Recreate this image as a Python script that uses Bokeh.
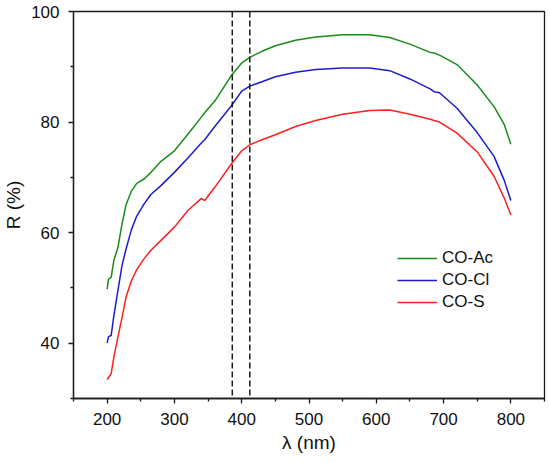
from bokeh.plotting import figure
from bokeh.models import (FixedTicker, Span, Legend, LegendItem, Range1d)
from bokeh.embed import file_html
from bokeh.resources import INLINE

# ---- data ----
wavelength = [200, 202, 206, 210, 216, 222, 228, 236, 244, 255, 265, 280, 300,
              320, 340, 345, 360, 385, 400, 412, 430, 450, 480, 510, 550, 590, 620,
              650, 680, 686, 694, 720, 750, 775, 790, 800]

co_ac = [49.8, 51.6, 51.9, 55.0, 57.3, 61.5, 65.0, 67.5, 68.9, 69.7, 70.9, 72.9, 74.8,
         77.8, 80.9, 81.7, 83.8, 88.5, 90.7, 91.7, 92.8, 93.8, 94.8, 95.4, 95.8, 95.8, 95.3,
         94.1, 92.6, 92.5, 92.1, 90.4, 86.7, 82.8, 79.6, 76.0]

co_cl = [40.0, 41.2, 41.4, 45.0, 49.5, 54.0, 57.0, 60.5, 63.0, 65.2, 66.9, 68.5, 70.9,
         73.5, 76.2, 76.8, 79.2, 83.0, 85.6, 86.5, 87.3, 88.2, 89.0, 89.5, 89.8, 89.8, 89.3,
         87.8, 86.0, 85.5, 85.3, 82.5, 78.1, 73.8, 69.5, 65.8]

co_s = [33.4, 33.8, 34.5, 37.5, 41.1, 44.6, 48.3, 51.3, 53.3, 55.3, 56.8, 58.6, 61.0,
        64.0, 66.2, 65.8, 68.2, 72.5, 74.8, 75.9, 76.8, 77.7, 79.2, 80.3, 81.4, 82.1, 82.2,
        81.4, 80.5, 80.3, 80.0, 78.0, 74.6, 70.2, 66.3, 63.2]

series_names = ["CO-Ac", "CO-Cl", "CO-S"]
series_colors = ["#1a8c1a", "#1c1ccc", "#ff1f1f"]

marker_wavelengths = [386, 412]

x_ticks = [200, 300, 400, 500, 600, 700, 800]
x_minor = [150, 250, 350, 450, 550, 650, 750, 850]
y_ticks = [40, 60, 80, 100]
y_minor = [30, 50, 70, 90]

FONT = "Liberation Sans"

p = figure(width=550, height=465, output_backend="svg", toolbar_location=None,
           x_range=Range1d(150, 850), y_range=Range1d(30, 100),
           min_border_left=68, min_border_right=6, min_border_top=11,
           min_border_bottom=67)

p.grid.visible = False
p.outline_line_color = "#1a1a1a"
p.outline_line_width = 1.3
p.background_fill_color = "white"

for ax in (p.xaxis[0], p.yaxis[0]):
    ax.axis_line_color = "#1a1a1a"
    ax.axis_line_width = 1.3
    ax.major_tick_line_color = "#1a1a1a"
    ax.minor_tick_line_color = "#1a1a1a"
    ax.major_tick_line_width = 1.3
    ax.minor_tick_line_width = 1.3
    ax.major_tick_in = 0
    ax.major_tick_out = 5
    ax.minor_tick_in = 0
    ax.minor_tick_out = 3
    ax.major_label_text_font = FONT
    ax.major_label_text_font_size = "17px"
    ax.major_label_text_color = "#111111"
    ax.axis_label_text_font = FONT
    ax.axis_label_text_font_size = "19px"
    ax.axis_label_text_font_style = "normal"
    ax.axis_label_text_color = "#111111"

p.xaxis.ticker = FixedTicker(ticks=x_ticks, minor_ticks=x_minor)
p.yaxis.ticker = FixedTicker(ticks=y_ticks, minor_ticks=y_minor)
p.xaxis.major_label_standoff = 9
p.yaxis.major_label_standoff = 9

p.xaxis.axis_label = "λ (nm)"
p.xaxis.axis_label_standoff = 4
p.yaxis.axis_label = "R (%)"
p.yaxis.axis_label_standoff = 4

for xv in marker_wavelengths:
    p.add_layout(Span(location=xv, dimension="height", line_color="#1a1a1a",
                      line_width=1.5, line_dash="6 3"))

items = []
for name, ys, col in zip(series_names, [co_ac, co_cl, co_s], series_colors):
    r = p.line(wavelength, ys, line_color=col, line_width=1.5)
    items.append(LegendItem(label=name, renderers=[r]))

legend = Legend(items=items, location=(324, 86), padding=0, margin=0, spacing=2,
                glyph_width=40, glyph_height=20, label_height=20,
                label_standoff=5, border_line_alpha=0,
                background_fill_alpha=0, label_text_font=FONT,
                label_text_font_size="17px", label_text_color="#111111")
p.add_layout(legend)

open("out.html", "w").write(file_html(p, INLINE))
